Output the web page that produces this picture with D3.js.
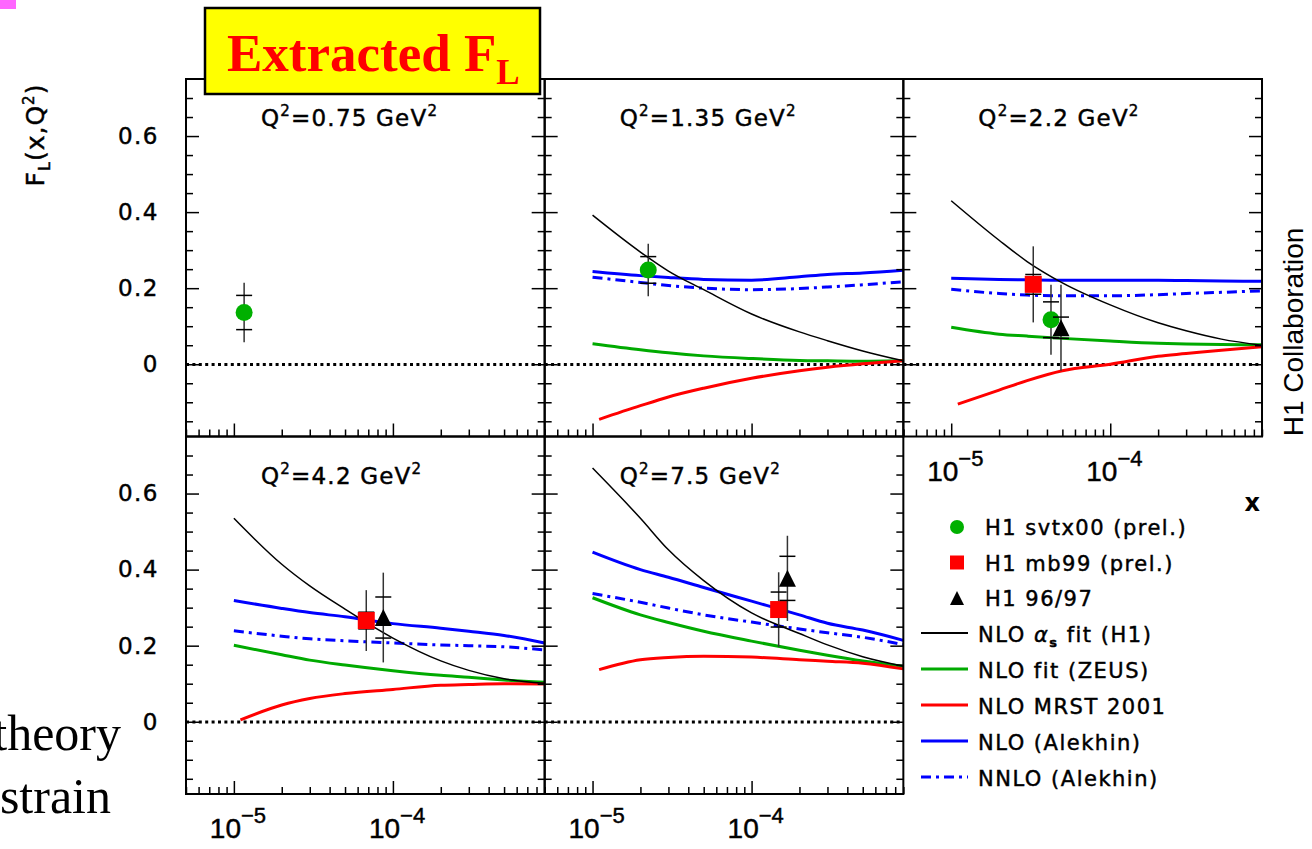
<!DOCTYPE html>
<html>
<head>
<meta charset="utf-8">
<title>Extracted FL</title>
<script src="https://cdn.jsdelivr.net/npm/d3@7"></script>
<style>
  body { margin: 0; background: #fff; }
  svg { display: block; font-family: "DejaVu Sans", sans-serif; }
  .heavy { stroke: #000; stroke-width: 0.45px; }
</style>
</head>
<body>
<svg id="fl-chart" width="1312" height="849"></svg>
<script>
// ---- values ----
const q2Labels = ["0.75", "1.35", "2.2", "4.2", "7.5"];

// x grid of the theory curves (MRST starts a little later)
const xGrid = [1e-5, 2e-5, 3e-5, 5e-5, 1e-4, 2e-4, 3e-4, 5e-4, 9e-4];
const xGridMrst = [1.1e-5, 2e-5, 3e-5, 5e-5, 1e-4, 2e-4, 3e-4, 5e-4, 9e-4];

// one row per Q2 bin, null where no curve is drawn
const nloAlphaS = [
  null,
  [0.392, 0.295, 0.245, 0.196, 0.132, 0.085, 0.062, 0.035, 0.009],
  [0.430, 0.326, 0.270, 0.214, 0.156, 0.109, 0.088, 0.066, 0.050],
  [0.535, 0.414, 0.357, 0.296, 0.220, 0.160, 0.135, 0.113, 0.101],
  [0.667, 0.535, 0.452, 0.371, 0.286, 0.232, 0.202, 0.171, 0.146]
];
const nloZeus = [
  null,
  [0.054, 0.038, 0.030, 0.022, 0.015, 0.010, 0.009, 0.008, 0.009],
  [0.097, 0.079, 0.074, 0.068, 0.061, 0.055, 0.053, 0.052, 0.051],
  [0.201, 0.176, 0.162, 0.149, 0.134, 0.122, 0.117, 0.110, 0.104],
  [0.326, 0.281, 0.261, 0.238, 0.212, 0.188, 0.175, 0.160, 0.146]
];
const nloMrst = [
  null,
  [-0.145, -0.109, -0.086, -0.063, -0.037, -0.017, -0.008, 0.001, 0.009],
  [-0.105, -0.068, -0.043, -0.017, 0.000, 0.021, 0.028, 0.037, 0.046],
  [0.005, 0.044, 0.061, 0.074, 0.085, 0.096, 0.098, 0.100, 0.099],
  [0.137, 0.163, 0.169, 0.172, 0.170, 0.163, 0.159, 0.154, 0.139]
];
const nloAlekhin = [
  null,
  [0.244, 0.233, 0.228, 0.223, 0.221, 0.230, 0.236, 0.240, 0.247],
  [0.226, 0.223, 0.222, 0.221, 0.221, 0.221, 0.220, 0.219, 0.218],
  [0.319, 0.298, 0.287, 0.276, 0.258, 0.246, 0.238, 0.227, 0.207],
  [0.446, 0.400, 0.380, 0.353, 0.317, 0.281, 0.259, 0.241, 0.214]
];
const nnloAlekhin = [
  null,
  [0.229, 0.215, 0.207, 0.200, 0.196, 0.199, 0.203, 0.209, 0.217],
  [0.197, 0.186, 0.182, 0.180, 0.180, 0.183, 0.186, 0.189, 0.193],
  [0.239, 0.225, 0.218, 0.213, 0.207, 0.202, 0.200, 0.197, 0.189],
  [0.337, 0.314, 0.299, 0.281, 0.262, 0.244, 0.234, 0.222, 0.203]
];

// measurements: bin, x, FL, stat error, total error
const svtx00 = [
  { bin: 0, x: 1.16e-5, f: 0.136, stat: 0.045, tot: 0.078 },
  { bin: 1, x: 2.24e-5, f: 0.248, stat: 0.035, tot: 0.069 },
  { bin: 2, x: 4.24e-5, f: 0.117, stat: 0.047, tot: 0.092 }
];
const mb99 = [
  { bin: 2, x: 3.28e-5, f: 0.210, stat: 0.026, tot: 0.100 },
  { bin: 3, x: 6.8e-5, f: 0.266, stat: 0.022, tot: 0.080 },
  { bin: 4, x: 1.48e-4, f: 0.295, stat: 0.046, tot: 0.098 }
];
const h19697 = [
  { bin: 2, x: 4.9e-5, f: 0.096, stat: 0.028, tot: 0.113 },
  { bin: 3, x: 8.7e-5, f: 0.274, stat: 0.054, tot: 0.118 },
  { bin: 4, x: 1.68e-4, f: 0.377, stat: 0.058, tot: 0.112 }
];

const yMajor = [0, 0.2, 0.4, 0.6];
const xMajor = [1e-5, 1e-4];

// ---- layout ----
const svg = d3.select("#fl-chart");
const W = 358.67, H = 357.5, left0 = 186, top0 = 79;
const cells = [[0, 0], [1, 0], [2, 0], [0, 1], [1, 1]];

const x = d3.scaleLog().domain([5e-6, 9e-4]).range([0, W]);
const y = d3.scaleLinear().domain([-0.19, 0.75]).range([H, 0]);

const green = "#00aa00", red = "#ff0000", blue = "#0000ff";

const curves = [
  { rows: nloZeus, xs: xGrid, color: green, width: 3, dash: null },
  { rows: nloMrst, xs: xGridMrst, color: red, width: 3, dash: null },
  { rows: nloAlekhin, xs: xGrid, color: blue, width: 3, dash: null },
  { rows: nnloAlekhin, xs: xGrid, color: blue, width: 3, dash: "10,5,3,5" },
  { rows: nloAlphaS, xs: xGrid, color: "#000", width: 1.5, dash: null }
];

const line = d3.line()
  .x(d => x(d[0]))
  .y(d => y(d[1]))
  .curve(d3.curveMonotoneX);

const isDecade = v => Math.abs(Math.log10(v) - Math.round(Math.log10(v))) < 1e-6;
const xMinor = x.ticks().filter(v => !isDecade(v));
const yMinor = d3.range(-3, 15).filter(i => i % 4 !== 0).map(i => i * 0.05);

function marker(sel, kind, size) {
  if (kind === "circle") {
    sel.append("circle").attr("r", size / 2).attr("fill", "#00b000");
  } else if (kind === "square") {
    sel.append("rect").attr("x", -size / 2).attr("y", -size / 2)
      .attr("width", size).attr("height", size).attr("fill", red);
  } else {
    const h = size / 2;
    sel.append("path").attr("d", `M0,${-h}L${h},${h}L${-h},${h}Z`).attr("fill", "#000");
  }
}

cells.forEach(([col, row], bin) => {
  const px = left0 + col * W, py = top0 + row * H;
  const g = svg.append("g").attr("transform", `translate(${px},${py})`);

  // zero line
  g.append("line")
    .attr("x1", 0).attr("x2", W)
    .attr("y1", Math.round(y(0)) + 0.5).attr("y2", Math.round(y(0)) + 0.5)
    .attr("stroke", "#000").attr("stroke-width", 3)
    .attr("stroke-dasharray", "3,3.4");

  // theory curves
  curves.forEach(c => {
    const vals = c.rows[bin];
    if (!vals) return;
    g.append("path")
      .attr("d", line(c.xs.map((v, i) => [v, vals[i]])))
      .attr("fill", "none")
      .attr("stroke", c.color)
      .attr("stroke-width", c.width)
      .attr("stroke-dasharray", c.dash);
  });

  // measurements
  [[svtx00, "circle"], [mb99, "square"], [h19697, "triangle"]].forEach(([pts, kind]) => {
    pts.filter(p => p.bin === bin).forEach(p => {
      const cx = x(p.x);
      g.append("line")
        .attr("x1", cx).attr("x2", cx)
        .attr("y1", y(p.f - p.tot)).attr("y2", y(p.f + p.tot))
        .attr("stroke", "#333").attr("stroke-width", 1.5);
      [p.f - p.stat, p.f + p.stat].forEach(v => {
        g.append("line")
          .attr("x1", cx - 8).attr("x2", cx + 8)
          .attr("y1", y(v)).attr("y2", y(v))
          .attr("stroke", "#000").attr("stroke-width", 1.5);
      });
      marker(g.append("g").attr("transform", `translate(${cx},${y(p.f)})`), kind, 17);
    });
  });

  // axes (ticks point inward)
  const axisStyle = a => {
    a.select(".domain").remove();
    a.selectAll("line").attr("stroke-width", 1.5);
  };
  g.append("g").attr("transform", `translate(0,${H})`)
    .call(d3.axisBottom(x).tickValues(xMajor).tickSize(-13).tickFormat(""))
    .call(axisStyle);
  g.append("g").attr("transform", `translate(0,${H})`)
    .call(d3.axisBottom(x).tickValues(xMinor).tickSize(-7).tickFormat(""))
    .call(axisStyle);

  const yLeft = g.append("g")
    .call(d3.axisLeft(y).tickValues(yMajor).tickSize(-13).tickPadding(27)
      .tickFormat(col === 0 ? (d => d === 0 ? "0" : d3.format(".1f")(d)) : ""))
    .call(axisStyle);
  yLeft.selectAll("text")
    .attr("class", "heavy")
    .attr("font-family", "DejaVu Sans")
    .attr("font-size", 23)
    .attr("letter-spacing", 1.5)
    .attr("fill", "#000");
  g.append("g").call(d3.axisLeft(y).tickValues(yMinor).tickSize(-7).tickFormat("")).call(axisStyle);
  g.append("g").attr("transform", `translate(${W},0)`)
    .call(d3.axisRight(y).tickValues(yMajor).tickSize(-13).tickFormat("")).call(axisStyle);
  g.append("g").attr("transform", `translate(${W},0)`)
    .call(d3.axisRight(y).tickValues(yMinor).tickSize(-7).tickFormat("")).call(axisStyle);

  // x tick labels under the lowest panel of each column
  if (row === 1 || col === 2) {
    xMajor.forEach(v => {
      const t = g.append("text")
        .attr("class", "heavy")
        .attr("x", x(v) - 24).attr("y", H + 44)
        .attr("font-family", "Liberation Sans")
        .attr("font-size", 28);
      t.append("tspan").text("10");
      t.append("tspan").attr("font-size", 22).attr("dy", -15)
        .text("\u2212" + (-Math.round(Math.log10(v))));
    });
  }

  // frame
  g.append("rect")
    .attr("width", W).attr("height", H)
    .attr("fill", "none").attr("stroke", "#000").attr("stroke-width", 2);

  // Q2 label
  const lab = g.append("text")
    .attr("class", "heavy")
    .attr("x", 75).attr("y", 47)
    .attr("font-size", 23)
    .attr("letter-spacing", 1.2);
  lab.append("tspan").text("Q");
  lab.append("tspan").attr("font-size", 15).attr("dy", -10).text("2");
  lab.append("tspan").attr("dy", 10).text(`=${q2Labels[bin]} GeV`);
  lab.append("tspan").attr("font-size", 15).attr("dy", -10).text("2");
});

// y axis title
const yTitle = svg.append("text")
  .attr("class", "heavy")
  .attr("transform", "translate(44,135) rotate(-90)")
  .attr("text-anchor", "middle")
  .attr("font-size", 25)
  .attr("letter-spacing", 1);
yTitle.append("tspan").text("F");
yTitle.append("tspan").attr("font-size", 16).attr("dy", 6).text("L");
yTitle.append("tspan").attr("dy", -6).text("(x,Q");
yTitle.append("tspan").attr("font-size", 15).attr("dy", -10).text("2");
yTitle.append("tspan").attr("dy", 10).text(")");

// x axis title
svg.append("text")
  .attr("x", 1260).attr("y", 511)
  .attr("text-anchor", "end")
  .attr("font-size", 24)
  .attr("font-weight", "bold")
  .text("x");

// side note
svg.append("text")
  .attr("transform", "translate(1303,332) rotate(-90)")
  .attr("text-anchor", "middle")
  .attr("font-family", "Liberation Sans")
  .attr("font-size", 28)
  .text("H1 Collaboration");

// ---- legend ----
const pointLegend = [
  ["circle", "H1 svtx00 (prel.)"],
  ["square", "H1 mb99 (prel.)"],
  ["triangle", "H1 96/97"]
];
const lineLegend = [
  { color: "#000", width: 2, dash: null, label: ["NLO ", "\u03b1", "s", " fit (H1)"] },
  { color: green, width: 3, dash: null, label: ["NLO fit (ZEUS)"] },
  { color: red, width: 3, dash: null, label: ["NLO MRST 2001"] },
  { color: blue, width: 3, dash: null, label: ["NLO (Alekhin)"] },
  { color: blue, width: 3, dash: "10,5,3,5", label: ["NNLO (Alekhin)"] }
];

const legend = svg.append("g");
pointLegend.forEach(([kind, label], i) => {
  const ly = 527 + i * 35.5;
  marker(legend.append("g").attr("transform", `translate(957,${ly})`), kind, 14);
  legend.append("text")
    .attr("class", "heavy")
    .attr("x", 985).attr("y", ly + 8)
    .attr("font-size", 21).attr("letter-spacing", 1.5)
    .text(label);
});
lineLegend.forEach((d, i) => {
  const ly = 633 + i * 36;
  legend.append("line")
    .attr("x1", 921).attr("x2", 968)
    .attr("y1", ly).attr("y2", ly)
    .attr("stroke", d.color).attr("stroke-width", d.width)
    .attr("stroke-dasharray", d.dash);
  const t = legend.append("text")
    .attr("class", "heavy")
    .attr("x", 978).attr("y", ly + 9)
    .attr("font-size", 21).attr("letter-spacing", 1.5);
  if (d.label.length === 1) {
    t.text(d.label[0]);
  } else {
    t.append("tspan").text(d.label[0]);
    t.append("tspan").attr("font-style", "italic").text(d.label[1]);
    t.append("tspan").attr("font-size", 13).attr("font-weight", "bold").attr("dy", 5).text(d.label[2]);
    t.append("tspan").attr("dy", -5).text(d.label[3]);
  }
});

// ---- slide leftovers around the plot ----
svg.append("rect")
  .attr("x", 0).attr("y", 0).attr("width", 16).attr("height", 9)
  .attr("fill", "#ff66ff");

["theory", "strain"].forEach((w, i) => {
  svg.append("text")
    .attr("x", i === 0 ? 121 : 111).attr("y", 750 + i * 63)
    .attr("text-anchor", "end")
    .attr("font-family", "Liberation Serif")
    .attr("font-size", 50)
    .text(w);
});

// title box
svg.append("rect")
  .attr("x", 205).attr("y", 8).attr("width", 335).attr("height", 86)
  .attr("fill", "#ffff00").attr("stroke", "#000").attr("stroke-width", 2.5);
const title = svg.append("text")
  .attr("x", 227).attr("y", 71)
  .attr("font-family", "Liberation Serif")
  .attr("font-weight", "bold")
  .attr("font-size", 53)
  .attr("fill", red);
title.append("tspan").text("Extracted F");
title.append("tspan").attr("font-size", 35).attr("dy", 13).text("L");
</script>
</body>
</html>
